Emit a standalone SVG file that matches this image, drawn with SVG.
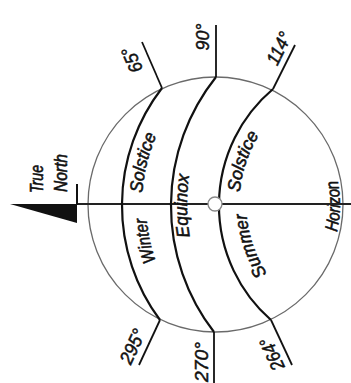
<svg xmlns="http://www.w3.org/2000/svg" xmlns:xlink="http://www.w3.org/1999/xlink" width="351" height="383" viewBox="0 0 351 383">
<style>
.t{font-family:"Liberation Sans",Arial,sans-serif;font-style:italic;font-size:18px;fill:#111;stroke:#111;stroke-width:0.6}
.d{font-family:"Liberation Sans",Arial,sans-serif;font-style:italic;font-size:19px;fill:#111;stroke:#111;stroke-width:0.5;text-anchor:middle}
.path{fill:none;stroke:#111;stroke-width:2.2}
.lead{fill:none;stroke:#111;stroke-width:1.8}
</style>
<defs>
<path id="pWinter" d="M171.8,294 A168,168 0 0 1 147.6,181.7"/>
<path id="pWSol" d="M143,223.1 A172,172 0 0 1 171.1,108.8"/>
<path id="pEq" d="M199,271 A190.7,190.7 0 0 1 198,140.5"/>
<path id="pSummer" d="M274,283 A125,125 0 0 1 246.3,202.1"/>
<path id="pSSol" d="M239.3,207.7 A132,132 0 0 1 268.1,122.2"/>
<path id="pHor" d="M332,248.5 A124.5,124.5 0 0 0 333,163.4"/>
</defs>
<g id="horizon">
<circle cx="215.5" cy="204.5" r="127.5" fill="none" stroke="#6a6a6a" stroke-width="1.3"/>
<text class="t"><textPath xlink:href="#pHor" href="#pHor" startOffset="50%" text-anchor="middle" textLength="52" lengthAdjust="spacingAndGlyphs">Horizon</textPath></text>
</g>
<g id="connectors">
<line x1="77" y1="204" x2="351" y2="204" stroke="#222" stroke-width="2"/>
<path class="path" d="M162,88 A192,192 0 0 0 160,320"/>
<path class="path" d="M216,77 A206.7,206.7 0 0 0 214,332"/>
<path class="path" d="M273,89 A152.3,152.3 0 0 0 271,320"/>
<line class="lead" x1="162" y1="88" x2="142" y2="42"/>
<line class="lead" x1="216" y1="77" x2="216" y2="25"/>
<line class="lead" x1="273" y1="89" x2="295" y2="45"/>
<line class="lead" x1="160" y1="320" x2="139" y2="365"/>
<line class="lead" x1="214" y1="332" x2="214" y2="383"/>
<line class="lead" x1="271" y1="320" x2="292" y2="365"/>
</g>
<g id="north">
<polygon points="10,204 77,204 77,223" fill="#111"/>
<line x1="77" y1="184" x2="77" y2="205" stroke="#111" stroke-width="2"/>
<text class="t" text-anchor="middle" transform="translate(43,179) rotate(-90)" textLength="28" lengthAdjust="spacingAndGlyphs">True</text>
<text class="t" text-anchor="middle" transform="translate(67,173) rotate(-90)" textLength="38" lengthAdjust="spacingAndGlyphs">North</text>
</g>
<g id="observer">
<circle cx="215" cy="204" r="7" fill="#fff" stroke="#888" stroke-width="1.3"/>
</g>
<g id="winter">
<text class="t"><textPath xlink:href="#pWinter" href="#pWinter" startOffset="50%" text-anchor="middle" textLength="44" lengthAdjust="spacingAndGlyphs">Winter</textPath></text>
<text class="t"><textPath xlink:href="#pWSol" href="#pWSol" startOffset="50%" text-anchor="middle" textLength="60" lengthAdjust="spacingAndGlyphs">Solstice</textPath></text>
<text class="d" transform="translate(138,57.4) rotate(-113.5)" textLength="26" lengthAdjust="spacingAndGlyphs">65°</text>
<text class="d" transform="translate(138.4,349.2) rotate(-65)" textLength="36" lengthAdjust="spacingAndGlyphs">295°</text>
</g>
<g id="equinox">
<text class="t"><textPath xlink:href="#pEq" href="#pEq" startOffset="50%" text-anchor="middle" textLength="62" lengthAdjust="spacingAndGlyphs">Equinox</textPath></text>
<text class="d" transform="translate(208.5,37) rotate(-90)" textLength="27" lengthAdjust="spacingAndGlyphs">90°</text>
<text class="d" transform="translate(208,362) rotate(-90)" textLength="40" lengthAdjust="spacingAndGlyphs">270°</text>
</g>
<g id="summer">
<text class="t"><textPath xlink:href="#pSummer" href="#pSummer" startOffset="50%" text-anchor="middle" textLength="64" lengthAdjust="spacingAndGlyphs">Summer</textPath></text>
<text class="t"><textPath xlink:href="#pSSol" href="#pSSol" startOffset="50%" text-anchor="middle" textLength="61" lengthAdjust="spacingAndGlyphs">Solstice</textPath></text>
<text class="d" transform="translate(284.8,51.4) rotate(-63.4)" textLength="34" lengthAdjust="spacingAndGlyphs">114°</text>
<text class="d" transform="translate(277.9,351.3) rotate(-115)" textLength="34" lengthAdjust="spacingAndGlyphs">264°</text>
</g>
</svg>
